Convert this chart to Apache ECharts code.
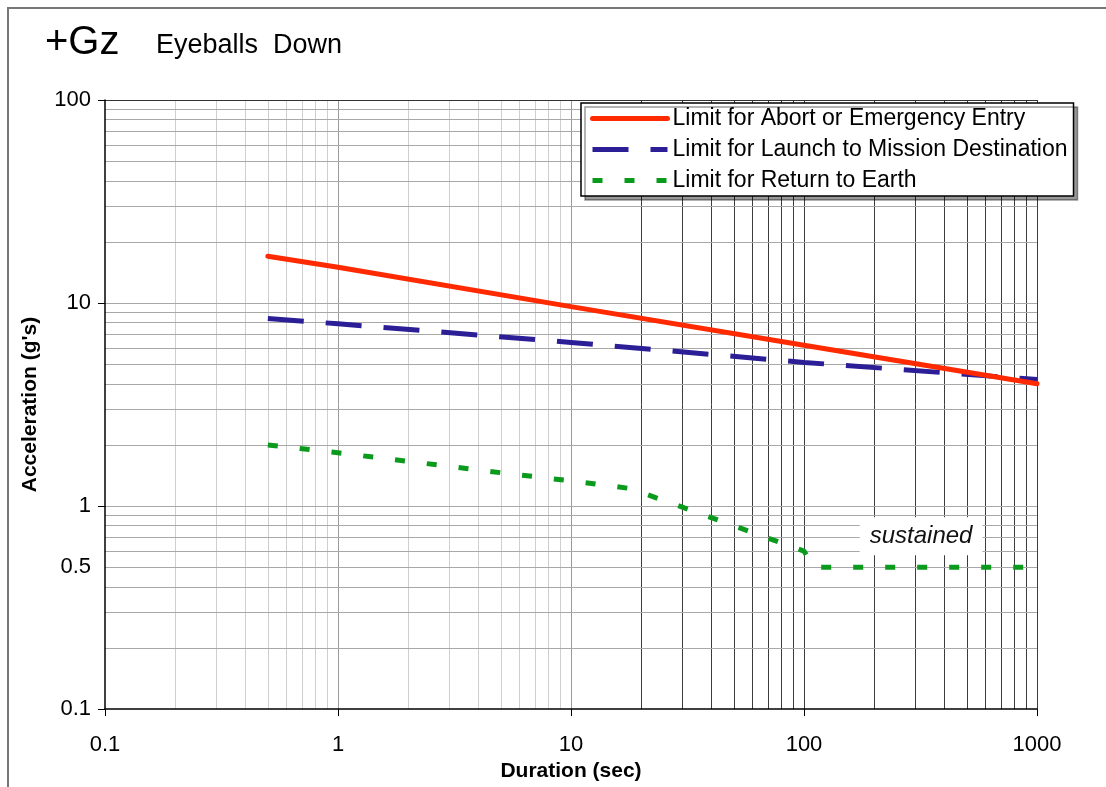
<!DOCTYPE html>
<html>
<head>
<meta charset="utf-8">
<script src="https://cdn.jsdelivr.net/npm/echarts@6/dist/echarts.min.js"></script>
<style>
html,body{margin:0;padding:0;background:#fff;}
#chart{width:1106px;height:787px;}
</style>
</head>
<body>
<div id="chart"></div>
<script>
// ---- data ----
const seriesNames = [
  'Limit for Abort or Emergency Entry',
  'Limit for Launch to Mission Destination',
  'Limit for Return to Earth'
];
const abortDur   = [0.5, 1, 10, 100, 1000];
const abortG     = [17, 15, 9.6, 6.2, 4.0];
const launchDur  = [0.5, 1, 10, 100, 1000];
const launchG    = [8.4, 7.9, 6.4, 5.1, 4.2];
const returnDur  = [0.5, 1, 5, 10, 18, 50, 100, 110, 1000];
const returnG    = [2.0, 1.83, 1.46, 1.33, 1.22, 0.8, 0.6, 0.5, 0.5];
const yExtraTicks = [0.5];
const annotationText = 'sustained';
const annotationAt = [318, 0.71];

const FONT = '"Liberation Sans", Arial, Helvetica, sans-serif';

function pairs(xs, ys){ return xs.map((x,i)=>[x, ys[i]]); }

// minor gridline positions (2..9 per decade)
function gridVals(lo, hi){
  const out = [];
  for (let d = lo; d < hi; d *= 10){
    for (let k = 1; k <= 9; k++){
      const v = +(d*k).toPrecision(6);
      if (v > lo) out.push(v);
    }
  }
  out.push(hi);
  return out;
}
const xGrid = gridVals(0.1, 1000);
const yGrid = gridVals(0.1, 100);

const gridMarks = [];
xGrid.forEach(v => {
  let color = '#cfcfcf';
  if (v === 1 || v === 10) color = '#9a9a9a';
  if (v >= 20) color = '#3c3c3c';
  gridMarks.push({xAxis: v, lineStyle: {color: color, width: 1, type: 'solid'}});
});
yGrid.forEach(v => {
  let color = '#a8a8a8';
  if (v === 100) color = '#333';
  const item = {yAxis: v, lineStyle: {color: color, width: 1, type: 'solid'}};
  if (yExtraTicks.indexOf(v) >= 0){
    item.label = {show: true, position: 'start', formatter: String(v), distance: 14,
      color: '#000', fontSize: 22, fontFamily: FONT};
  }
  gridMarks.push(item);
});

const chart = echarts.init(document.getElementById('chart'), null, {renderer: 'canvas'});
chart.setOption({
  animation: false,
  backgroundColor: '#fff',
  textStyle: {fontFamily: FONT},
  graphic: [{
    type: 'polyline', silent: true, z: 100,
    shape: {points: [[8, 787], [8, 8], [1106, 8]]},
    style: {stroke: '#777', lineWidth: 2, fill: null}
  }],
  title: [
    {text: '+Gz', left: 40, top: 18, textStyle: {fontSize: 40, fontWeight: 'normal', color: '#000', fontFamily: FONT}},
    {text: 'Eyeballs  Down', left: 151, top: 27, textStyle: {fontSize: 27, fontWeight: 'normal', color: '#000', fontFamily: FONT}}
  ],
  grid: {left: 105, right: 69, top: 100, bottom: 77, containLabel: false},
  legend: {
    orient: 'vertical', left: 581, top: 103, z: 6,
    itemWidth: 75, itemHeight: 14, itemGap: 8,
    padding: [4, 6, 4, 9],
    backgroundColor: '#fff', borderColor: '#000', borderWidth: 1.5,
    shadowColor: 'rgba(0,0,0,0.4)', shadowOffsetX: 4, shadowOffsetY: 4, shadowBlur: 0,
    itemStyle: {opacity: 0},
    lineStyle: {width: 5},
    textStyle: {fontSize: 23, color: '#000', fontFamily: FONT, lineHeight: 23},
    data: seriesNames
  },
  xAxis: {
    type: 'log', logBase: 10, min: 0.1, max: 1000, z: 5,
    name: 'Duration (sec)', nameLocation: 'middle', nameGap: 47,
    nameTextStyle: {fontSize: 21, fontWeight: 'bold', color: '#000', fontFamily: FONT},
    axisLine: {show: true, onZero: false, lineStyle: {color: '#000', width: 1.5}},
    axisTick: {show: true, length: 7, lineStyle: {color: '#000', width: 1}},
    axisLabel: {fontSize: 22, color: '#000', margin: 25, fontFamily: FONT,
      formatter: v => String(+v.toPrecision(6))},
    splitLine: {show: false}, minorSplitLine: {show: false}
  },
  yAxis: {
    type: 'log', logBase: 10, min: 0.1, max: 100, z: 5,
    name: "Acceleration (g's)", nameLocation: 'middle', nameGap: 64, nameRotate: 90,
    nameTextStyle: {fontSize: 21, fontWeight: 'bold', color: '#000', fontFamily: FONT},
    axisLine: {show: true, onZero: false, lineStyle: {color: '#000', width: 1.5}},
    axisTick: {show: true, length: 7, lineStyle: {color: '#000', width: 1}},
    axisLabel: {fontSize: 22, color: '#000', margin: 14, fontFamily: FONT,
      formatter: v => String(+v.toPrecision(6))},
    splitLine: {show: false}, minorSplitLine: {show: false}
  },
  series: [
    {
      name: '__grid', type: 'line', data: [], silent: true, z: 1,
      markLine: {silent: true, z: 1, symbol: ['none', 'none'], animation: false,
        label: {show: false}, emphasis: {disabled: true}, data: gridMarks}
    },
    {
      name: seriesNames[0], type: 'line', data: pairs(abortDur, abortG), z: 4,
      showSymbol: false, symbol: 'none', clip: true,
      lineStyle: {color: '#ff2a00', width: 5, cap: 'round'},
      itemStyle: {color: '#ff2a00'}
    },
    {
      name: seriesNames[1], type: 'line', data: pairs(launchDur, launchG), z: 3,
      showSymbol: false, symbol: 'none', clip: true,
      lineStyle: {color: '#2b1e96', width: 5, type: [36, 22], cap: 'butt'},
      itemStyle: {color: '#2b1e96'}
    },
    {
      name: seriesNames[2], type: 'line', data: pairs(returnDur, returnG), z: 3,
      showSymbol: false, symbol: 'none', clip: true,
      lineStyle: {color: '#0a9a1c', width: 5, type: [10, 22], cap: 'butt'},
      itemStyle: {color: '#0a9a1c'},
      markPoint: {
        z: 5, symbol: 'rect', symbolSize: 1, silent: true,
        itemStyle: {color: 'rgba(255,255,255,0)'},
        label: {show: true, position: 'inside', formatter: annotationText,
          backgroundColor: '#fff', padding: [7, 10, 7, 10],
          fontStyle: 'italic', fontSize: 24, color: '#111', fontFamily: FONT},
        data: [{coord: annotationAt}]
      }
    }
  ]
});
</script>
</body>
</html>
